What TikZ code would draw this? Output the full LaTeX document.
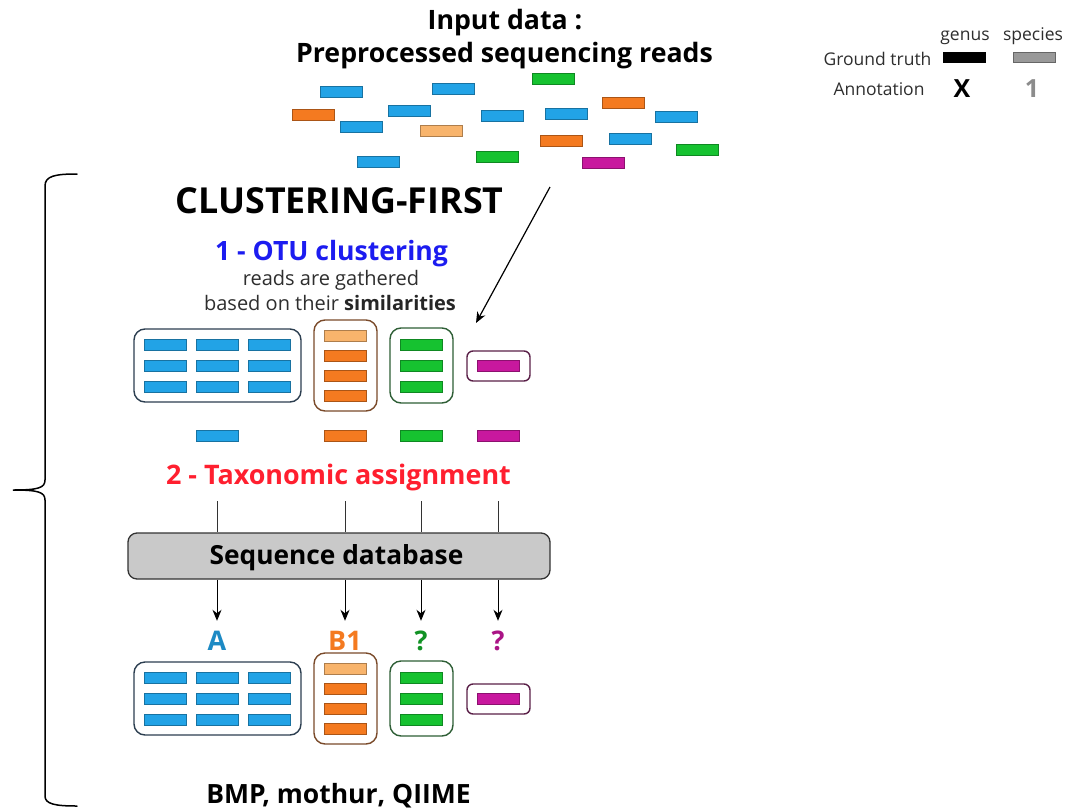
\documentclass[tikz,border=0pt]{standalone}
\usepackage{fontspec}
\setmainfont{Open Sans}
\usetikzlibrary{arrows.meta}

\definecolor{cblue}{HTML}{22A3E6}
\definecolor{corange}{HTML}{F47A20}
\definecolor{clight}{HTML}{F8B46C}
\definecolor{cgreen}{HTML}{16C230}
\definecolor{cmag}{HTML}{C8189E}
\definecolor{bblue}{HTML}{2C3E50}
\definecolor{borange}{HTML}{7A4A2A}
\definecolor{bgreen}{HTML}{2E5E35}
\definecolor{bmag}{HTML}{5A2048}
\definecolor{otublue}{HTML}{1C1CF0}
\definecolor{taxred}{HTML}{FF1F2F}
\definecolor{txtgray}{HTML}{2E2E2E}
\definecolor{dbgray}{HTML}{C9C9C9}

\newcommand\fs[1]{\fontsize{#1}{#1}\selectfont}

% one OTU cluster row: #1 vertical offset, #2 name prefix
\newcommand\otuclusters[2]{%
  \begin{scope}[yshift=-#1pt]
    \node[cluster=bblue, minimum width=167pt, minimum height=73pt] (#2B) at (217.5,365.5) {};
    \node[cluster=borange, minimum width=63pt, minimum height=91pt] (#2O) at (345.5,365.5) {};
    \node[cluster=bgreen, minimum width=63pt, minimum height=75pt] (#2G) at (421.5,365.5) {};
    \node[cluster=bmag, minimum width=63pt, minimum height=30pt, rounded corners=6pt] (#2M) at (498.5,366) {};
    \foreach \cx [count=\i] in {165.5,217.5,269.5}
      \foreach \cy [count=\j] in {345,366,387}
        \node[read=cblue] (#2b\i\j) at (\cx,\cy) {};
    \node[read=clight] (#2o1) at (345.5,336) {};
    \foreach \cy [count=\j from 2] in {356,376,396}
      \node[read=corange] (#2o\j) at (345.5,\cy) {};
    \foreach \cy [count=\j] in {345,366,387}
      \node[read=cgreen] (#2g\j) at (421.5,\cy) {};
    \node[read=cmag] (#2m1) at (498.5,366) {};
  \end{scope}}

\tikzset{
  read/.style={draw=#1!70!black, fill=#1, line width=0.7pt,
    minimum width=42pt, minimum height=11.5pt, inner sep=0pt},
  cluster/.style={draw=#1, line width=1.4pt, rounded corners=11pt,
    inner sep=0pt, fill=white},
  txt/.style={anchor=base, inner sep=0pt},
  label/.style={font=\bfseries\fs{27}, inner sep=0pt, anchor=base,
    text height=19pt, text depth=0pt},
  tip/.style={-{Stealth[length=11pt,width=9pt,inset=3.5pt]}},
}

\begin{document}
\begin{tikzpicture}[x=1pt,y=-1pt]
\useasboundingbox (0,0) rectangle (1068,809);
\fill[white] (0,0) rectangle (1068,809);

% title of the input
\node[txt, font=\bfseries\fs{26.7}] (intitle) at (505,29) {Input data :};
\node[txt, font=\bfseries\fs{26.7}] (insub) at (504.5,62) {Preprocessed sequencing reads};

% scattered input reads
\node[read=cblue]   (i1)  at (341,92) {};
\node[read=corange] (i2)  at (313,115) {};
\node[read=cblue]   (i3)  at (361,127) {};
\node[read=cblue]   (i4)  at (378,162) {};
\node[read=cblue]   (i5)  at (409,111) {};
\node[read=clight]  (i6)  at (441,131) {};
\node[read=cblue]   (i7)  at (453,89) {};
\node[read=cblue]   (i8)  at (502,116) {};
\node[read=cgreen]  (i9)  at (497,157) {};
\node[read=cgreen]  (i10) at (553,79) {};
\node[read=cblue]   (i11) at (566,114) {};
\node[read=corange] (i12) at (561,141) {};
\node[read=corange] (i13) at (623,103) {};
\node[read=cblue]   (i14) at (630,139) {};
\node[read=cmag]    (i15) at (603,163) {};
\node[read=cblue]   (i16) at (676,117) {};
\node[read=cgreen]  (i17) at (697,150) {};

% legend
\node[txt, font=\fs{17.5}, text=txtgray] (lgenus) at (965,40) {genus};
\node[txt, font=\fs{17.5}, text=txtgray] (lspecies) at (1033,40) {species};
\node[txt, font=\fs{17.5}, text=txtgray] (lgt) at (877.5,65) {Ground truth};
\node[draw=black, fill=black, minimum width=42pt, minimum height=10pt, inner sep=0pt] (lgenbar) at (964,57.5) {};
\node[draw=black!60, fill=black!40, minimum width=42pt, minimum height=10pt, inner sep=0pt, line width=0.8pt] (lspbar) at (1034,57.5) {};
\node[txt, font=\fs{17.5}, text=txtgray] (lann) at (879,95) {Annotation};
\node[txt, font=\bfseries\fs{25}] (lx) at (962,97) {X};
\node[txt, font=\bfseries\fs{25}, text=black!45] (lone) at (1032,97) {1};

% clustering-first pipeline
\node[txt, font=\bfseries\fs{35.8}] (cftitle) at (339.5,213) {CLUSTERING-FIRST};
\node[txt, font=\bfseries\fs{26.6}, text=otublue] (step1) at (331.5,260) {1 - OTU clustering};
\node[txt, font=\fs{20}, text=txtgray] (step1a) at (331,285) {reads are gathered};
\node[txt, font=\fs{20}, text=txtgray] (step1b) at (330,310) {based on their \textbf{\color{black!85}similarities}};

\coordinate (feedtop) at (550,187);
\coordinate (feedend) at (476,323);
\draw[tip, line width=1.2pt] (feedtop) -- (feedend);

\otuclusters{0}{u}

% representative reads of each OTU
\node[read=cblue]   (rep1) at (217.5,436) {};
\node[read=corange] (rep2) at (345.5,436) {};
\node[read=cgreen]  (rep3) at (421.5,436) {};
\node[read=cmag]    (rep4) at (498.5,436) {};

\node[txt, font=\bfseries\fs{26.9}, text=taxred] (step2) at (338.5,484) {2 - Taxonomic assignment};

\node[draw=black!80, fill=dbgray, line width=1.3pt, rounded corners=9pt,
      minimum width=422pt, minimum height=46pt, inner sep=0pt] (db) at (339,556) {};
\node[txt, font=\bfseries\fs{26.3}] (dbtext) at (336.5,564) {Sequence database};

\foreach \x [count=\k] in {217,345,421,498}
  \coordinate (s\k) at (\x,501);
\foreach \k in {1,...,4}
  \draw[line width=0.9pt, black!80] (s\k) -- (s\k |- db.north);

% resulting annotations
\node[label, text=cblue!85!black] (a1) at (217,650) {A};
\node[label, text=corange] (a2) at (345,650) {B1};
\node[label, text=cgreen!75!black] (a3) at (421,650) {?};
\node[label, text=cmag!85!black] (a4) at (498,650) {?};
\foreach \k in {1,...,4}
  \draw[tip, line width=1pt, shorten >=10pt] (db.south -| a\k) -- (a\k.north);

\otuclusters{333}{v}

\node[txt, font=\bfseries\fs{26.5}] (tools) at (338.5,803) {BMP, mothur, QIIME};

% brace grouping the pipeline
\draw[line width=1.5pt, line cap=round]
  (77,174) .. controls (55,174) and (45,176) .. (45,186) -- (45,480)
  .. controls (45,488) and (38,490) .. (13,490)
  .. controls (38,490) and (45,492) .. (45,500) -- (45,796)
  .. controls (45,804) and (55,806) .. (77,806);
\end{tikzpicture}
\end{document}
